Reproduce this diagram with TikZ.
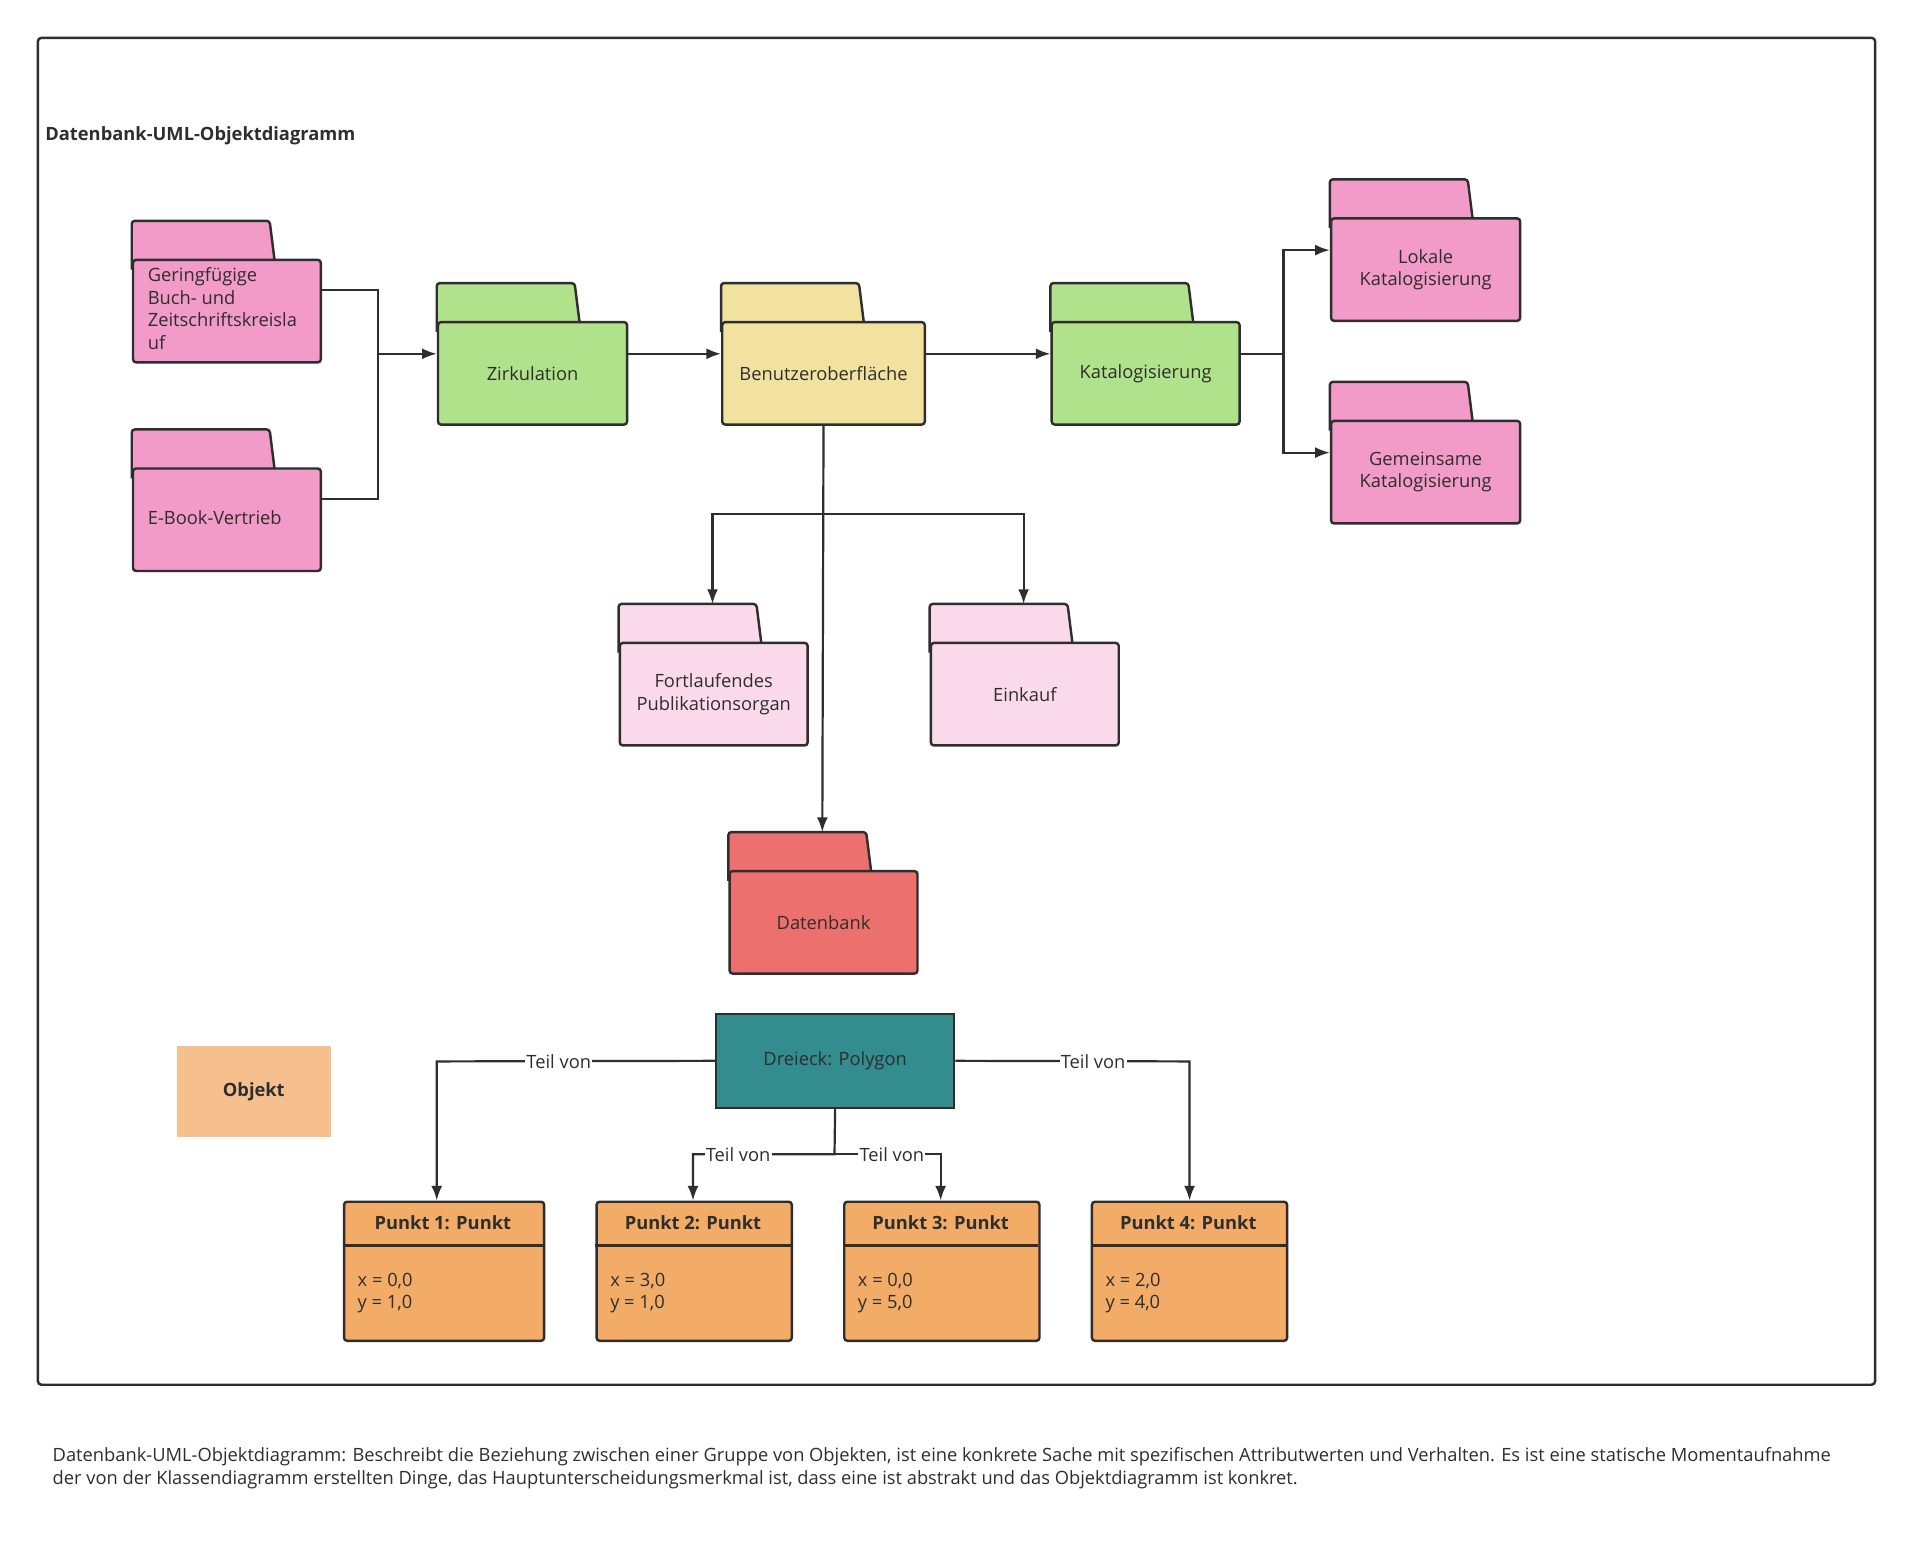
\documentclass[tikz,border=0pt]{standalone}
\usepackage{fontspec}
\setmainfont{Open Sans}
\usetikzlibrary{arrows.meta,calc}
\definecolor{ln}{HTML}{2E2E2E}
\definecolor{pinkA}{HTML}{F29AC8}
\definecolor{pinkB}{HTML}{F9D9EA}
\definecolor{greenA}{HTML}{B0E28C}
\definecolor{yellowA}{HTML}{F2E2A0}
\definecolor{redA}{HTML}{EC716E}
\definecolor{tealA}{HTML}{338C8D}
\definecolor{objA}{HTML}{F5C08E}
\definecolor{orA}{HTML}{F2AC67}
\tikzset{
  fbody/.style={draw=ln,line width=2pt,rounded corners=2.5pt,inner sep=0pt,anchor=north west,minimum height=84pt,font=\fontsize{15}{18.5}\selectfont,text=ln},
  ftab/.style={draw=ln,line width=2pt,rounded corners=2.5pt},
  conn/.style={draw=ln,line width=1.8pt,-{Latex[length=12pt,width=9pt]}},
  lin/.style={draw=ln,line width=1.8pt},
  lbl/.style={fill=white,inner sep=1pt,font=\fontsize{15}{18}\selectfont,text=ln},
  pbox/.style={draw=ln,line width=2pt,rounded corners=2.5pt,fill=orA,anchor=north west,minimum height=114pt,inner sep=0pt},
}
\newcommand\myfolder[6]{%
  \draw[ftab,fill=#5] (#2,#3+40) -- (#2,#3) -- (#2+113,#3) -- (#2+118,#3+40);
  \node[fbody,fill=#5,minimum width=#4pt,align=center] (#1) at (#2,#3+31) {#6};}
\newcommand\myfolderL[6]{%
  \draw[ftab,fill=#5] (#2,#3+40) -- (#2,#3) -- (#2+113,#3) -- (#2+118,#3+40);
  \node[fbody,fill=#5,minimum width=#4pt] (#1) at (#2,#3+31) {};
  \node[anchor=west,align=left,inner sep=0pt,font=\fontsize{15}{18.5}\selectfont,text=ln] at (#2+13,#3+72) {#6};}
\begin{document}
\begin{tikzpicture}[x=1pt,y=-1pt]
\useasboundingbox (0,0) rectangle (1568,1273);
\fill[white] (0,0) rectangle (1568,1273);
\draw[ln,line width=2pt,rounded corners=3pt] (31,31) rectangle (1537,1135);
\node[anchor=west,inner sep=0pt,font=\bfseries\fontsize{15}{18}\selectfont,text=ln] (title) at (37,111) {Datenbank-UML-Objektdiagramm};

\myfolderL{ger}{108}{181}{154}{pinkA}{Geringfügige\\Buch- und\\Zeitschriftskreisla\\uf}
\myfolderL{ebook}{108}{352}{154}{pinkA}{E-Book-Vertrieb}
\myfolder{zirk}{358}{232}{155}{greenA}{Zirkulation}
\myfolder{ben}{591}{232}{166}{yellowA}{Benutzeroberfläche}
\myfolder{kat}{861}{232}{154}{greenA}{Katalogisierung}
\myfolder{lok}{1090}{147}{155}{pinkA}{Lokale\\Katalogisierung}
\myfolder{gem}{1090}{313}{155}{pinkA}{Gemeinsame\\Katalogisierung}
\myfolder{fort}{507}{495}{154}{pinkB}{Fortlaufendes\\Publikationsorgan}
\myfolder{ein}{762}{495}{154}{pinkB}{Einkauf}
\myfolder{db}{597}{682}{154}{redA}{Datenbank}
\coordinate (dbtop) at (674,682);
\coordinate (forttop) at (584,495);
\coordinate (eintop) at (839,495);
\coordinate (loktip) at (1090,205);
\coordinate (gemtip) at (1090,371);

\draw[lin] (ger.east |- 0,238) -- (310,238) -- (310,290);
\draw[conn] (ebook.east |- 0,409) -- (310,409) -- (310,290) -- (zirk.west |- 0,290);
\draw[conn] (zirk.east |- 0,290) -- (ben.west |- 0,290);
\draw[conn] (ben.east |- 0,290) -- (kat.west |- 0,290);
\draw[conn] (kat.east |- 0,290) -- (1052,290) -- (1052,205) -- (loktip);
\draw[conn] (1052,290) -- (1052,371) -- (gemtip);
\draw[conn] (ben.south) -- (dbtop);
\draw[conn] (674,421) -- (584,421) -- (forttop);
\draw[conn] (674,421) -- (839,421) -- (eintop);

\node[draw=ln,line width=2pt,fill=tealA,minimum width=195pt,minimum height=77pt,inner sep=0pt,font=\fontsize{15}{18}\selectfont,text=ln] (dre) at (684.5,869.5) {Dreieck: Polygon};
\node[fill=objA,minimum width=126pt,minimum height=75pt,inner sep=0pt,font=\bfseries\fontsize{15}{18}\selectfont,text=ln] (obj) at (208,894.5) {Objekt};

\newcommand\punkt[5]{%
  \node[pbox,minimum width=#3pt] (#1) at (#2,984) {};
  \draw[ln,line width=2pt] (#2,1021) -- (#2+#3,1021);
  \node[font=\bfseries\fontsize{15}{18}\selectfont,text=ln] at (#2+#3/2,1002) {#4};
  \node[anchor=west,align=left,inner sep=0pt,font=\fontsize{15}{18.5}\selectfont,text=ln] at (#2+12,1060) {#5};}
\punkt{p1}{281}{164}{Punkt 1: Punkt}{x = 0,0\\y = 1,0}
\punkt{p2}{488}{160}{Punkt 2: Punkt}{x = 3,0\\y = 1,0}
\punkt{p3}{691}{160}{Punkt 3: Punkt}{x = 0,0\\y = 5,0}
\punkt{p4}{894}{160}{Punkt 4: Punkt}{x = 2,0\\y = 4,0}
\coordinate (p1t) at (358,984);
\coordinate (p2t) at (568,984);
\coordinate (p3t) at (771,984);
\coordinate (p4t) at (975,984);

\draw[conn] (dre.west) -- (358,870) -- (p1t);
\node[lbl] at (458,870) {Teil von};
\draw[conn] (dre.east) -- (975,870) -- (p4t);
\node[lbl] at (896,870) {Teil von};
\draw[conn] (dre.south) -- (684,946) -- (568,946) -- (p2t);
\draw[conn] (684,946) -- (771,946) -- (p3t);
\node[lbl] at (605,946) {Teil von};
\node[lbl] at (731,946) {Teil von};

\node[anchor=north west,align=left,inner sep=0pt,font=\fontsize{15}{19}\selectfont,text=ln] (cap) at (43,1186) {Datenbank-UML-Objektdiagramm: Beschreibt die Beziehung zwischen einer Gruppe von Objekten, ist eine konkrete Sache mit spezifischen Attributwerten und Verhalten. Es ist eine statische Momentaufnahme\\der von der Klassendiagramm erstellten Dinge, das Hauptunterscheidungsmerkmal ist, dass eine ist abstrakt und das Objektdiagramm ist konkret.};
\end{tikzpicture}
\end{document}
